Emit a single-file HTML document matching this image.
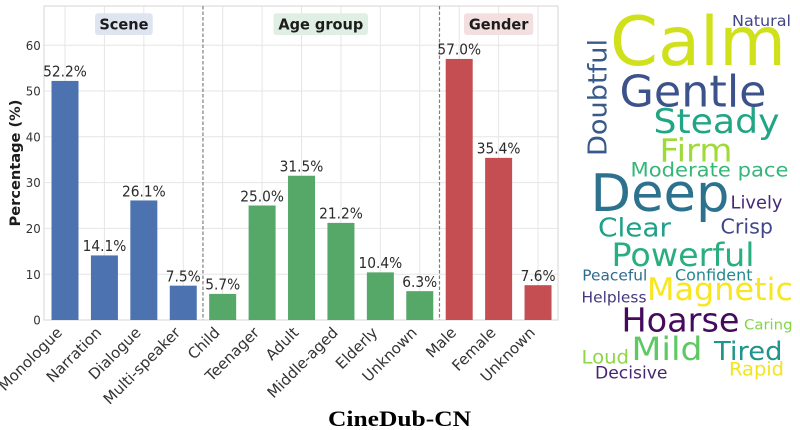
<!DOCTYPE html>
<html>
<head>
<meta charset="utf-8">
<style>
  html, body { margin: 0; padding: 0; background: #ffffff; }
  body { width: 800px; height: 430px; overflow: hidden; }
  svg { display: block; }
  .dj { font-family: "DejaVu Sans", "Liberation Sans", sans-serif; }
</style>
</head>
<body>
<svg width="800" height="430" viewBox="0 0 800 430" xmlns="http://www.w3.org/2000/svg">
  <rect x="0" y="0" width="800" height="430" fill="#ffffff"/>

  <!-- horizontal grid -->
  <g stroke="#e6e6e6" stroke-width="1">
    <line x1="44" y1="274.2" x2="558" y2="274.2"/>
    <line x1="44" y1="228.4" x2="558" y2="228.4"/>
    <line x1="44" y1="182.6" x2="558" y2="182.6"/>
    <line x1="44" y1="136.8" x2="558" y2="136.8"/>
    <line x1="44" y1="91" x2="558" y2="91"/>
    <line x1="44" y1="45.2" x2="558" y2="45.2"/>
  </g>
  <!-- vertical grid at bar centers -->
  <g stroke="#e6e6e6" stroke-width="1">
    <line x1="65" y1="6" x2="65" y2="320"/>
    <line x1="104.42" y1="6" x2="104.42" y2="320"/>
    <line x1="143.84" y1="6" x2="143.84" y2="320"/>
    <line x1="183.26" y1="6" x2="183.26" y2="320"/>
    <line x1="222.68" y1="6" x2="222.68" y2="320"/>
    <line x1="262.1" y1="6" x2="262.1" y2="320"/>
    <line x1="301.52" y1="6" x2="301.52" y2="320"/>
    <line x1="340.94" y1="6" x2="340.94" y2="320"/>
    <line x1="380.36" y1="6" x2="380.36" y2="320"/>
    <line x1="419.78" y1="6" x2="419.78" y2="320"/>
    <line x1="459.2" y1="6" x2="459.2" y2="320"/>
    <line x1="498.62" y1="6" x2="498.62" y2="320"/>
    <line x1="538.04" y1="6" x2="538.04" y2="320"/>
  </g>

  <!-- axes frame -->
  <rect x="44" y="6" width="514" height="314" fill="none" stroke="#dcdcdc" stroke-width="1.2"/>

  <!-- panel boxes -->
  <rect x="95" y="13.3" width="57.7" height="21.7" rx="3" fill="#dfe5f0"/>
  <rect x="273.5" y="13.3" width="94.5" height="21.7" rx="3" fill="#e0efe4"/>
  <rect x="464" y="13.3" width="69.3" height="21.7" rx="3" fill="#f4dfe0"/>

  <!-- Bars -->
  <g fill="#4c72b0">
    <rect x="51.5" y="80.92" width="27" height="239.08"/>
    <rect x="90.92" y="255.42" width="27" height="64.58"/>
    <rect x="130.34" y="200.46" width="27" height="119.54"/>
    <rect x="169.76" y="285.65" width="27" height="34.35"/>
  </g>
  <g fill="#55a868">
    <rect x="209.18" y="293.89" width="27" height="26.11"/>
    <rect x="248.6" y="205.5" width="27" height="114.5"/>
    <rect x="288.02" y="175.73" width="27" height="144.27"/>
    <rect x="327.44" y="222.9" width="27" height="97.1"/>
    <rect x="366.86" y="272.37" width="27" height="47.63"/>
    <rect x="406.28" y="291.15" width="27" height="28.85"/>
  </g>
  <g fill="#c44e52">
    <rect x="445.7" y="58.94" width="27" height="261.06"/>
    <rect x="485.12" y="157.87" width="27" height="162.13"/>
    <rect x="524.54" y="285.19" width="27" height="34.81"/>
  </g>

  <!-- dashed separators -->
  <g stroke="#7f7f7f" stroke-width="1.2" stroke-dasharray="3.5,2">
    <line x1="202.97" y1="6" x2="202.97" y2="320"/>
    <line x1="439.49" y1="6" x2="439.49" y2="320"/>
  </g>

  <!-- panel labels -->
  <g class="dj" font-size="15" font-weight="bold" fill="#1c1c1c" text-anchor="middle">
    <text transform="translate(123.9,29.3) scale(0.97,1)">Scene</text>
    <text transform="translate(320.8,29.3) scale(0.97,1)">Age group</text>
    <text transform="translate(498.6,29.3) scale(0.97,1)">Gender</text>
  </g>

  <!-- value labels -->
  <g class="dj" font-size="14.8" fill="#2b2b2b" text-anchor="middle">
    <text transform="translate(65,76.7) scale(0.93,1)">52.2%</text>
    <text transform="translate(104.42,251.2) scale(0.93,1)">14.1%</text>
    <text transform="translate(143.84,196.3) scale(0.93,1)">26.1%</text>
    <text transform="translate(183.26,281.5) scale(0.93,1)">7.5%</text>
    <text transform="translate(222.68,289.7) scale(0.93,1)">5.7%</text>
    <text transform="translate(262.1,201.3) scale(0.93,1)">25.0%</text>
    <text transform="translate(301.52,171.5) scale(0.93,1)">31.5%</text>
    <text transform="translate(340.94,218.7) scale(0.93,1)">21.2%</text>
    <text transform="translate(380.36,268.2) scale(0.93,1)">10.4%</text>
    <text transform="translate(419.78,287) scale(0.93,1)">6.3%</text>
    <text transform="translate(459.2,54.7) scale(0.93,1)">57.0%</text>
    <text transform="translate(498.62,153.7) scale(0.93,1)">35.4%</text>
    <text transform="translate(538.04,281) scale(0.93,1)">7.6%</text>
  </g>

  <!-- y tick labels -->
  <g class="dj" font-size="12.8" fill="#333333" text-anchor="end">
    <text transform="translate(40.7,324.6) scale(0.92,1)">0</text>
    <text transform="translate(40.7,278.8) scale(0.92,1)">10</text>
    <text transform="translate(40.7,233) scale(0.92,1)">20</text>
    <text transform="translate(40.7,187.2) scale(0.92,1)">30</text>
    <text transform="translate(40.7,141.4) scale(0.92,1)">40</text>
    <text transform="translate(40.7,95.6) scale(0.92,1)">50</text>
    <text transform="translate(40.7,49.8) scale(0.92,1)">60</text>
  </g>

  <!-- y axis label -->
  <text class="dj" font-size="14.6" font-weight="bold" fill="#1c1c1c" text-anchor="middle" transform="translate(20,163) rotate(-90)">Percentage (%)</text>

  <!-- x tick labels -->
  <g class="dj" font-size="15" fill="#333333" text-anchor="end">
    <text transform="translate(63,333.5) rotate(-45)">Monologue</text>
    <text transform="translate(102.4,333.5) rotate(-45)">Narration</text>
    <text transform="translate(141.8,333.5) rotate(-45)">Dialogue</text>
    <text transform="translate(181.3,333.5) rotate(-45)">Multi-speaker</text>
    <text transform="translate(220.7,333.5) rotate(-45)">Child</text>
    <text transform="translate(260.1,333.5) rotate(-45)">Teenager</text>
    <text transform="translate(299.5,333.5) rotate(-45)">Adult</text>
    <text transform="translate(338.9,333.5) rotate(-45)">Middle-aged</text>
    <text transform="translate(378.4,333.5) rotate(-45)">Elderly</text>
    <text transform="translate(417.8,333.5) rotate(-45)">Unknown</text>
    <text transform="translate(457.2,333.5) rotate(-45)">Male</text>
    <text transform="translate(496.6,333.5) rotate(-45)">Female</text>
    <text transform="translate(536,333.5) rotate(-45)">Unknown</text>
  </g>

  <!-- title -->
  <text x="328" y="426" font-family="'Liberation Serif', serif" font-weight="bold" font-size="22" fill="#000000" textLength="143" lengthAdjust="spacingAndGlyphs">CineDub-CN</text>

  <!-- word cloud -->
  <g class="dj">
    <text x="610" y="65" font-size="68" fill="#d0e11c" textLength="176" lengthAdjust="spacingAndGlyphs">Calm</text>
    <text x="732" y="26" font-size="15.5" fill="#414487" textLength="59" lengthAdjust="spacingAndGlyphs">Natural</text>
    <text transform="translate(606.5,156) rotate(-90)" font-size="26" fill="#39598c" textLength="117" lengthAdjust="spacingAndGlyphs">Doubtful</text>
    <text x="619.5" y="106.7" font-size="43.5" fill="#3b528b" textLength="147" lengthAdjust="spacingAndGlyphs">Gentle</text>
    <text x="653.5" y="133" font-size="34" fill="#21a585" textLength="126" lengthAdjust="spacingAndGlyphs">Steady</text>
    <text x="659.5" y="161.7" font-size="32" fill="#a0da39" textLength="73" lengthAdjust="spacingAndGlyphs">Firm</text>
    <text x="630.5" y="176.7" font-size="19.5" fill="#35b779" textLength="158" lengthAdjust="spacingAndGlyphs">Moderate pace</text>
    <text x="590.5" y="211" font-size="52" fill="#2c728e" textLength="139" lengthAdjust="spacingAndGlyphs">Deep</text>
    <text x="730.5" y="208.3" font-size="17.5" fill="#482878" textLength="52" lengthAdjust="spacingAndGlyphs">Lively</text>
    <text x="598" y="236.7" font-size="26" fill="#1fa088" textLength="73" lengthAdjust="spacingAndGlyphs">Clear</text>
    <text x="720.5" y="233.3" font-size="20" fill="#404688" textLength="52.5" lengthAdjust="spacingAndGlyphs">Crisp</text>
    <text x="611.5" y="266" font-size="32" fill="#29af7f" textLength="143" lengthAdjust="spacingAndGlyphs">Powerful</text>
    <text x="582.3" y="280.7" font-size="15.5" fill="#306a8e" textLength="65" lengthAdjust="spacingAndGlyphs">Peaceful</text>
    <text x="675" y="280.7" font-size="15.6" fill="#23898e" textLength="77.5" lengthAdjust="spacingAndGlyphs">Confident</text>
    <text x="647" y="300" font-size="31" fill="#f8e621" textLength="146" lengthAdjust="spacingAndGlyphs">Magnetic</text>
    <text x="581.5" y="302.3" font-size="15" fill="#453781" textLength="65" lengthAdjust="spacingAndGlyphs">Helpless</text>
    <text x="621.5" y="331.7" font-size="32.6" fill="#450a5c" textLength="118" lengthAdjust="spacingAndGlyphs">Hoarse</text>
    <text x="744" y="329.3" font-size="14.3" fill="#84d44b" textLength="48.5" lengthAdjust="spacingAndGlyphs">Caring</text>
    <text x="631.5" y="360" font-size="32" fill="#5ec962" textLength="71" lengthAdjust="spacingAndGlyphs">Mild</text>
    <text x="714" y="360" font-size="26" fill="#1f958b" textLength="68.5" lengthAdjust="spacingAndGlyphs">Tired</text>
    <text x="581.5" y="363.3" font-size="18.7" fill="#8ed645" textLength="47.5" lengthAdjust="spacingAndGlyphs">Loud</text>
    <text x="595" y="378.3" font-size="16.8" fill="#482475" textLength="72.5" lengthAdjust="spacingAndGlyphs">Decisive</text>
    <text x="729" y="375.3" font-size="18.7" fill="#f1e51d" textLength="55" lengthAdjust="spacingAndGlyphs">Rapid</text>
  </g>
</svg>
</body>
</html>
